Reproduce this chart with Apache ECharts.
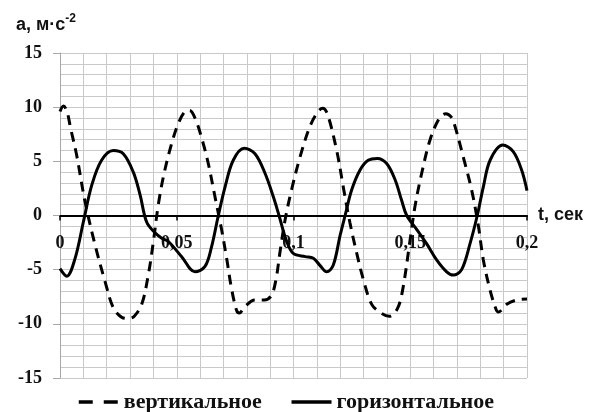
<!DOCTYPE html>
<html>
<head>
<meta charset="utf-8">
<script src="https://cdn.jsdelivr.net/npm/echarts@6/dist/echarts.min.js"></script>
<style>
html,body{margin:0;padding:0;background:#fff}
#chart{width:592px;height:412px}
</style>
</head>
<body>
<div id="chart"></div>
<script>
// Vertical acceleration (dashed), time in seconds, value in m/s^2
const timeVert = [0, 0.0015, 0.003, 0.0045, 0.0071, 0.0107, 0.015, 0.0193, 0.0228, 0.0265, 0.0295, 0.0318, 0.035, 0.0378, 0.04, 0.0421, 0.0445, 0.0475, 0.0505, 0.0535, 0.0555, 0.058, 0.061, 0.0635, 0.0664, 0.0692, 0.0714, 0.0735, 0.0757, 0.0768, 0.0792, 0.0835, 0.0875, 0.0905, 0.0925, 0.0942, 0.0964, 0.0992, 0.1028, 0.107, 0.1105, 0.1125, 0.1145, 0.1185, 0.1213, 0.1242, 0.1271, 0.1299, 0.1335, 0.1375, 0.141, 0.1445, 0.1468, 0.1499, 0.152, 0.1549, 0.1585, 0.1625, 0.1652, 0.1675, 0.1692, 0.1727, 0.1763, 0.1792, 0.1813, 0.1842, 0.1868, 0.1878, 0.1913, 0.1956, 0.2];
const valuesVert = [9.6, 10.1, 9.6, 8.1, 5.6, 1.3, -2.7, -6.1, -8.5, -9.4, -9.5, -9.3, -8.2, -5.5, -2.4, 1.0, 3.8, 6.4, 8.4, 9.6, 9.7, 8.9, 6.9, 4.8, 1.7, -1.3, -4.0, -6.8, -8.8, -9.0, -8.4, -7.8, -7.8, -7.4, -5.9, -3.4, -0.4, 2.4, 5.4, 8.2, 9.6, 9.9, 9.4, 6.0, 2.65, -0.7, -3.5, -5.9, -8.2, -9.0, -9.3, -8.6, -6.8, -2.3, 0.8, 3.9, 7.0, 9.0, 9.4, 9.1, 8.2, 5.4, 2.35, -1.0, -4.1, -6.9, -8.7, -8.9, -8.2, -7.8, -7.7];

// Horizontal acceleration (solid)
const timeHoriz = [0, 0.0029, 0.0064, 0.01, 0.0136, 0.0178, 0.0228, 0.0271, 0.0314, 0.0343, 0.0371, 0.0407, 0.0436, 0.0464, 0.0521, 0.0578, 0.0621, 0.0649, 0.0678, 0.0707, 0.0742, 0.0789, 0.0835, 0.0878, 0.0914, 0.0938, 0.0971, 0.0999, 0.105, 0.1085, 0.1113, 0.1142, 0.117, 0.12, 0.1221, 0.1249, 0.1285, 0.132, 0.1359, 0.1399, 0.1435, 0.1463, 0.1485, 0.1528, 0.157, 0.1613, 0.1656, 0.1684, 0.172, 0.1756, 0.1787, 0.1813, 0.1842, 0.1896, 0.1941, 0.1977, 0.2];
const valuesHoriz = [-4.9, -5.6, -4.0, -0.6, 2.8, 5.1, 6.0, 5.7, 4.0, 1.9, -0.6, -1.6, -2.1, -2.4, -3.8, -5.2, -4.7, -2.9, 0, 2.65, 5.1, 6.2, 5.7, 3.9, 1.7, 0, -2.4, -3.5, -3.8, -3.95, -4.6, -5.2, -4.6, -1.8, 0, 2.35, 4.2, 5.1, 5.27, 4.8, 3.3, 1.4, 0, -1.3, -2.6, -4.1, -5.2, -5.5, -5.0, -2.6, 0, 2.65, 5.1, 6.5, 5.9, 4.2, 2.3];

const xTickLabels = ['0', '0,05', '0,1', '0,15', '0,2'];
const seriesNames = ['вертикальное', 'горизонтальное'];

const pairs = (ts, vs) => ts.map((t, i) => [t, vs[i]]);

const serif = '"Liberation Serif", "DejaVu Serif", serif';
const sans = '"Liberation Sans", Arial, sans-serif';
const gridColor = '#c9c9c9';

// plot box: 53..378 px tall; the time axis is drawn through value 0
const gridTop = 53, gridBottom = 34, yMin = -15, yMax = 15;
const plotH = 412 - gridTop - gridBottom;
const zeroOffset = -plotH * (0 - yMin) / (yMax - yMin);

const chart = echarts.init(document.getElementById('chart'));
chart.setOption({
  animation: false,
  backgroundColor: '#fff',
  grid: { left: 60, right: 65, top: gridTop, bottom: gridBottom, containLabel: false },
  legend: {
    data: [
      { name: seriesNames[0], lineStyle: { type: [14, 11], width: 3.5 } },
      { name: seriesNames[1], lineStyle: { width: 3.5 } }
    ],
    left: 72,
    top: 386,
    itemWidth: 40,
    itemHeight: 14,
    itemGap: 28,
    itemStyle: { opacity: 0 },
    textStyle: { fontFamily: serif, fontWeight: 'bold', fontSize: 22, color: '#111' }
  },
  graphic: [{
    type: 'text',
    left: 16,
    top: 13,
    style: {
      text: '{m|a, м·с}{s|-2}',
      rich: {
        m: { fontFamily: sans, fontWeight: 'bold', fontSize: 18, fill: '#111', verticalAlign: 'bottom' },
        s: { fontFamily: sans, fontWeight: 'bold', fontSize: 12, fill: '#111', verticalAlign: 'top', padding: [0, 0, 9, 0] }
      }
    }
  }],
  xAxis: {
    type: 'value',
    min: 0,
    max: 0.2,
    interval: 0.05,
    position: 'bottom',
    offset: zeroOffset,
    name: 't, сек',
    nameLocation: 'end',
    nameGap: 11,
    nameTextStyle: { fontFamily: sans, fontWeight: 'bold', fontSize: 18, color: '#111', verticalAlign: 'middle' },
    axisLine: { onZero: false, lineStyle: { color: '#000', width: 2 } },
    axisTick: { show: true, length: 5, lineStyle: { color: '#000', width: 1.5 } },
    axisLabel: {
      margin: 19,
      fontFamily: serif, fontWeight: 'bold', fontSize: 18, color: '#111',
      formatter: v => xTickLabels[Math.round(v / 0.05)]
    },
    splitLine: { show: true, lineStyle: { color: gridColor, width: 1 } },
    minorTick: { show: false, splitNumber: 5 },
    minorSplitLine: { show: true, lineStyle: { color: gridColor, width: 1 } }
  },
  yAxis: {
    type: 'value',
    min: yMin,
    max: yMax,
    interval: 5,
    axisLine: { show: true, onZero: false, lineStyle: { color: '#a8a8a8', width: 1 } },
    axisTick: { show: true, length: 7, lineStyle: { color: '#a8a8a8' } },
    axisLabel: { margin: 18, fontFamily: serif, fontWeight: 'bold', fontSize: 18, color: '#111' },
    splitLine: { show: true, lineStyle: { color: gridColor, width: 1 } },
    minorTick: { show: false, splitNumber: 5 },
    minorSplitLine: { show: true, lineStyle: { color: gridColor, width: 1 } }
  },
  series: [
    {
      name: seriesNames[0],
      type: 'line',
      data: pairs(timeVert, valuesVert),
      smooth: 0.35,
      symbol: 'none',
      lineStyle: { color: '#000', width: 3, type: [10, 7] },
      itemStyle: { color: '#000' },
      z: 3
    },
    {
      name: seriesNames[1],
      type: 'line',
      data: pairs(timeHoriz, valuesHoriz),
      smooth: 0.35,
      symbol: 'none',
      lineStyle: { color: '#000', width: 3, type: 'solid' },
      itemStyle: { color: '#000' },
      z: 4
    }
  ]
});
</script>
</body>
</html>
